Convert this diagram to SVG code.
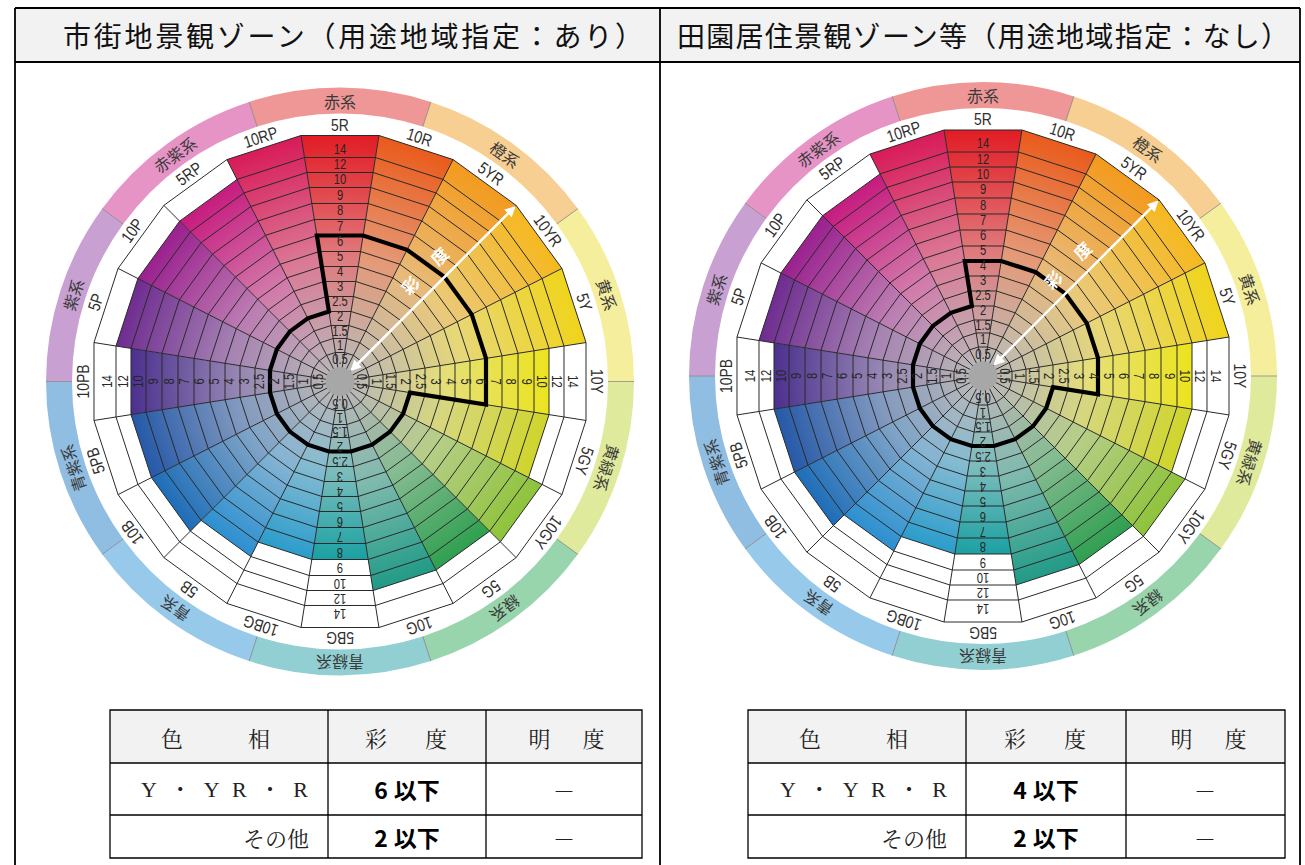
<svg xmlns="http://www.w3.org/2000/svg" width="1305" height="865" viewBox="0 0 1305 865">
<style>
.hdr{font-family:'Noto Sans CJK JP','Noto Sans',sans-serif;font-size:28px;fill:#111;dominant-baseline:central}
.tb{fill:none;stroke:#000;stroke-width:1.8}
.tb2{fill:none;stroke:#000;stroke-width:1.3}
.th{font-family:'Noto Serif CJK JP','Noto Sans CJK JP',serif;font-size:22px;fill:#222;dominant-baseline:central}
.tl{font-family:'Liberation Serif','Noto Serif CJK JP','Noto Sans CJK JP',serif;font-size:22px;fill:#222;dominant-baseline:central}
.tv{font-family:'Noto Sans CJK JP',sans-serif;font-size:23px;font-weight:bold;fill:#000;text-anchor:middle;dominant-baseline:central}
.num{font-family:'Liberation Sans',sans-serif;font-size:14px;fill:#262626;text-anchor:middle;dominant-baseline:central}
.hue{font-family:'Liberation Sans',sans-serif;font-size:17px;fill:#2e2e2e;text-anchor:middle;dominant-baseline:central}
.fam{font-family:'Noto Sans CJK JP',sans-serif;font-size:16px;fill:#3a3a3a;text-anchor:middle;dominant-baseline:central}
.ring{fill:none;stroke:#2a2a2a;stroke-width:1;vector-effect:non-scaling-stroke}
.spk{fill:none;stroke:#2a2a2a;stroke-width:1}
.sep{stroke:#8a8a8a;stroke-width:0.8}
.lim{fill:none;stroke:#000;stroke-width:4.2;stroke-linejoin:miter}
.arr{stroke:#fff;stroke-width:2.5;fill:none}
.sai{font-family:'Noto Sans CJK JP',sans-serif;font-size:17px;fill:#fff;font-weight:bold;text-anchor:middle;dominant-baseline:central}
</style>
<defs>
<radialGradient id="gR5" gradientUnits="userSpaceOnUse" cx="0" cy="0" r="100"><stop offset="0.05" stop-color="#bab7b7"/><stop offset="0.5" stop-color="#e07a7c"/><stop offset="1" stop-color="#e21b23"/></radialGradient>
<radialGradient id="gR10" gradientUnits="userSpaceOnUse" cx="0" cy="0" r="100"><stop offset="0.05" stop-color="#bab7b7"/><stop offset="0.5" stop-color="#e49a78"/><stop offset="1" stop-color="#ea5a1a"/></radialGradient>
<radialGradient id="gYR5" gradientUnits="userSpaceOnUse" cx="0" cy="0" r="100"><stop offset="0.05" stop-color="#bab7b7"/><stop offset="0.5" stop-color="#e8ba79"/><stop offset="1" stop-color="#f39a1c"/></radialGradient>
<radialGradient id="gYR10" gradientUnits="userSpaceOnUse" cx="0" cy="0" r="100"><stop offset="0.05" stop-color="#bab7b7"/><stop offset="0.5" stop-color="#eac97a"/><stop offset="1" stop-color="#f6b81f"/></radialGradient>
<radialGradient id="gY5" gradientUnits="userSpaceOnUse" cx="0" cy="0" r="100"><stop offset="0.05" stop-color="#bab7b7"/><stop offset="0.5" stop-color="#e7d778"/><stop offset="1" stop-color="#f0d41a"/></radialGradient>
<radialGradient id="gY10" gradientUnits="userSpaceOnUse" cx="0" cy="0" r="100"><stop offset="0.05" stop-color="#bab7b7"/><stop offset="0.5" stop-color="#e5df79"/><stop offset="1" stop-color="#ece41c"/></radialGradient>
<radialGradient id="gGY5" gradientUnits="userSpaceOnUse" cx="0" cy="0" r="100"><stop offset="0.05" stop-color="#bab7b7"/><stop offset="0.5" stop-color="#d6d780"/><stop offset="1" stop-color="#cfd52a"/></radialGradient>
<radialGradient id="gGY10" gradientUnits="userSpaceOnUse" cx="0" cy="0" r="100"><stop offset="0.05" stop-color="#bab7b7"/><stop offset="0.5" stop-color="#b6ce88"/><stop offset="1" stop-color="#8ec33a"/></radialGradient>
<radialGradient id="gG5" gradientUnits="userSpaceOnUse" cx="0" cy="0" r="100"><stop offset="0.05" stop-color="#bab7b7"/><stop offset="0.5" stop-color="#86bc92"/><stop offset="1" stop-color="#2e9f4f"/></radialGradient>
<radialGradient id="gG10" gradientUnits="userSpaceOnUse" cx="0" cy="0" r="100"><stop offset="0.05" stop-color="#bab7b7"/><stop offset="0.5" stop-color="#7ebaae"/><stop offset="1" stop-color="#1f9a86"/></radialGradient>
<radialGradient id="gBG5" gradientUnits="userSpaceOnUse" cx="0" cy="0" r="100"><stop offset="0.05" stop-color="#bab7b7"/><stop offset="0.5" stop-color="#7cbdbc"/><stop offset="1" stop-color="#1aa0a2"/></radialGradient>
<radialGradient id="gBG10" gradientUnits="userSpaceOnUse" cx="0" cy="0" r="100"><stop offset="0.05" stop-color="#bab7b7"/><stop offset="0.5" stop-color="#84bbd1"/><stop offset="1" stop-color="#2a9ccc"/></radialGradient>
<radialGradient id="gB5" gradientUnits="userSpaceOnUse" cx="0" cy="0" r="100"><stop offset="0.05" stop-color="#bab7b7"/><stop offset="0.5" stop-color="#84b4d3"/><stop offset="1" stop-color="#2b8fd0"/></radialGradient>
<radialGradient id="gB10" gradientUnits="userSpaceOnUse" cx="0" cy="0" r="100"><stop offset="0.05" stop-color="#bab7b7"/><stop offset="0.5" stop-color="#7da3c7"/><stop offset="1" stop-color="#1d6db8"/></radialGradient>
<radialGradient id="gPB5" gradientUnits="userSpaceOnUse" cx="0" cy="0" r="100"><stop offset="0.05" stop-color="#bab7b7"/><stop offset="0.5" stop-color="#8199bf"/><stop offset="1" stop-color="#2458a8"/></radialGradient>
<radialGradient id="gPB10" gradientUnits="userSpaceOnUse" cx="0" cy="0" r="100"><stop offset="0.05" stop-color="#bab7b7"/><stop offset="0.5" stop-color="#9484b2"/><stop offset="1" stop-color="#4a2f8e"/></radialGradient>
<radialGradient id="gP5" gradientUnits="userSpaceOnUse" cx="0" cy="0" r="100"><stop offset="0.05" stop-color="#bab7b7"/><stop offset="0.5" stop-color="#a682b3"/><stop offset="1" stop-color="#6e2b90"/></radialGradient>
<radialGradient id="gP10" gradientUnits="userSpaceOnUse" cx="0" cy="0" r="100"><stop offset="0.05" stop-color="#bab7b7"/><stop offset="0.5" stop-color="#bc7cb2"/><stop offset="1" stop-color="#9a1f8e"/></radialGradient>
<radialGradient id="gRP5" gradientUnits="userSpaceOnUse" cx="0" cy="0" r="100"><stop offset="0.05" stop-color="#bab7b7"/><stop offset="0.5" stop-color="#d27aaa"/><stop offset="1" stop-color="#c61a7e"/></radialGradient>
<radialGradient id="gRP10" gradientUnits="userSpaceOnUse" cx="0" cy="0" r="100"><stop offset="0.05" stop-color="#bab7b7"/><stop offset="0.5" stop-color="#db7a97"/><stop offset="1" stop-color="#d81a58"/></radialGradient>
<polygon id="poly" class="ring" points="98.769,15.643 89.101,45.399 70.711,70.711 45.399,89.101 15.643,98.769 -15.643,98.769 -45.399,89.101 -70.711,70.711 -89.101,45.399 -98.769,15.643 -98.769,-15.643 -89.101,-45.399 -70.711,-70.711 -45.399,-89.101 -15.643,-98.769 15.643,-98.769 45.399,-89.101 70.711,-70.711 89.101,-45.399 98.769,-15.643"/>
<path id="seg" d="M-90.85,-279.61A294,294 0 0 1 90.85,-279.61L82.82,-254.88A268,268 0 0 0 -82.82,-254.88Z"/>
<path id="sepl" class="sep" d="M0,-268V-294"/>
<marker id="ah" viewBox="0 0 10 10" refX="8" refY="5" markerWidth="11" markerHeight="11" markerUnits="userSpaceOnUse" orient="auto-start-reverse"><path d="M0,0L10,5L0,10z" fill="#fff"/></marker>
<g id="wheel">
 <g id="famring">
  <use href="#seg" fill="#ef9797"/>
  <use href="#seg" fill="#f7cf92" transform="rotate(36)"/>
  <use href="#seg" fill="#f5ee9c" transform="rotate(72)"/>
  <use href="#seg" fill="#e0ea9c" transform="rotate(108)"/>
  <use href="#seg" fill="#98d4ac" transform="rotate(144)"/>
  <use href="#seg" fill="#92cfd3" transform="rotate(180)"/>
  <use href="#seg" fill="#96c9ea" transform="rotate(216)"/>
  <use href="#seg" fill="#90bde2" transform="rotate(252)"/>
  <use href="#seg" fill="#c8a0d2" transform="rotate(288)"/>
  <use href="#seg" fill="#e693c6" transform="rotate(324)"/>
  <use href="#sepl" transform="rotate(18)"/><use href="#sepl" transform="rotate(54)"/><use href="#sepl" transform="rotate(90)"/><use href="#sepl" transform="rotate(126)"/><use href="#sepl" transform="rotate(162)"/><use href="#sepl" transform="rotate(198)"/><use href="#sepl" transform="rotate(234)"/><use href="#sepl" transform="rotate(270)"/><use href="#sepl" transform="rotate(306)"/><use href="#sepl" transform="rotate(342)"/>
 </g>
 <g id="wedges">
  <polygon points="0,0 -15.643,-98.769 15.643,-98.769" fill="url(#gR5)" transform="scale(2.4907)"/>
  <polygon points="0,0 15.643,-98.769 45.399,-89.101" fill="url(#gR10)" transform="scale(2.4907)"/>
  <polygon points="0,0 45.399,-89.101 70.711,-70.711" fill="url(#gYR5)" transform="scale(2.4907)"/>
  <polygon points="0,0 70.711,-70.711 89.101,-45.399" fill="url(#gYR10)" transform="scale(2.4907)"/>
  <polygon points="0,0 89.101,-45.399 98.769,-15.643" fill="url(#gY5)" transform="scale(2.4907)"/>
  <polygon points="0,0 98.769,-15.643 98.769,15.643" fill="url(#gY10)" transform="scale(2.1161)"/>
  <polygon points="0,0 98.769,15.643 89.101,45.399" fill="url(#gGY5)" transform="scale(2.1161)"/>
  <polygon points="0,0 89.101,45.399 70.711,70.711" fill="url(#gGY10)" transform="scale(2.2679)"/>
  <polygon points="0,0 70.711,70.711 45.399,89.101" fill="url(#gG5)" transform="scale(2.1161)"/>
  <polygon points="0,0 45.399,89.101 15.643,98.769" fill="url(#gG10)" transform="scale(2.1161)"/>
  <polygon points="0,0 15.643,98.769 -15.643,98.769" fill="url(#gBG5)" transform="scale(1.8022)"/>
  <polygon points="0,0 -15.643,98.769 -45.399,89.101" fill="url(#gBG10)" transform="scale(1.8022)"/>
  <polygon points="0,0 -45.399,89.101 -70.711,70.711" fill="url(#gB5)" transform="scale(1.9642)"/>
  <polygon points="0,0 -70.711,70.711 -89.101,45.399" fill="url(#gB10)" transform="scale(2.1161)"/>
  <polygon points="0,0 -89.101,45.399 -98.769,15.643" fill="url(#gPB5)" transform="scale(2.1161)"/>
  <polygon points="0,0 -98.769,15.643 -98.769,-15.643" fill="url(#gPB10)" transform="scale(2.1161)"/>
  <polygon points="0,0 -98.769,-15.643 -89.101,-45.399" fill="url(#gP5)" transform="scale(2.2679)"/>
  <polygon points="0,0 -89.101,-45.399 -70.711,-70.711" fill="url(#gP10)" transform="scale(2.2679)"/>
  <polygon points="0,0 -70.711,-70.711 -45.399,-89.101" fill="url(#gRP5)" transform="scale(2.2679)"/>
  <polygon points="0,0 -45.399,-89.101 -15.643,-98.769" fill="url(#gRP10)" transform="scale(2.4907)"/>
 </g>
 <g id="grid">
  <use href="#poly" transform="scale(0.2936)"/>
  <use href="#poly" transform="scale(0.4354)"/>
  <use href="#poly" transform="scale(0.5670)"/>
  <use href="#poly" transform="scale(0.7087)"/>
  <use href="#poly" transform="scale(0.8606)"/>
  <use href="#poly" transform="scale(1.0125)"/>
  <use href="#poly" transform="scale(1.1643)"/>
  <use href="#poly" transform="scale(1.3162)"/>
  <use href="#poly" transform="scale(1.4782)"/>
  <use href="#poly" transform="scale(1.6402)"/>
  <use href="#poly" transform="scale(1.8022)"/>
  <use href="#poly" transform="scale(1.9642)"/>
  <use href="#poly" transform="scale(2.1161)"/>
  <use href="#poly" transform="scale(2.2679)"/>
  <use href="#poly" transform="scale(2.4907)"/>
  <path class="spk" d="M246,38.96L-246,-38.96M221.93,113.08L-221.93,-113.08M176.12,176.12L-176.12,-176.12M113.08,221.93L-113.08,-221.93M38.96,246L-38.96,-246M-38.96,246L38.96,-246M-113.08,221.93L113.08,-221.93M-176.12,176.12L176.12,-176.12M-221.93,113.08L221.93,-113.08M-246,38.96L246,-38.96"/>
 </g>
 <circle r="14.6" fill="#a7a7a7"/>
</g>
</defs>

<g id="frame">
 <rect x="15" y="8" width="1285" height="54" fill="#f2f2f2"/>
 <path class="tb" d="M15,8H1300M15,62H1300M15,8V865M660,8V865M1300,8V865"/>
 <text class="hdr" x="63" y="35" textLength="580" lengthAdjust="spacing">市街地景観ゾーン（用途地域指定：あり）</text>
 <text class="hdr" x="677" y="35" textLength="612" lengthAdjust="spacing">田園居住景観ゾーン等（用途地域指定：なし）</text>
</g>

<g id="wheel-left" transform="translate(340,381.5)">
 <use href="#wheel"/>
 <path class="lim" d="M-23.12,-146L23.12,-146L67.11,-131.71L104.52,-104.52L131.71,-67.11L146,-23.12L146,23.12L70,11.09L63.15,32.17L50.11,50.11L32.17,63.15L11.09,70L-11.09,70L-32.17,63.15L-50.11,50.11L-63.15,32.17L-70,11.09L-70,-11.09L-63.15,-32.17L-50.11,-50.11L-32.17,-63.15L-11.09,-70Z"/>
 <path class="arr" d="M12,-12L174,-174" marker-start="url(#ah)" marker-end="url(#ah)"/>
 <g transform="rotate(-45)"><text class="sai" x="118" y="-19">彩</text><text class="sai" x="159" y="-19">度</text></g>
 <g id="fam-left">
  <text class="fam" transform="translate(0,-281)">赤系</text>
  <text class="fam" transform="rotate(36) translate(0,-281)">橙系</text>
  <text class="fam" transform="rotate(72) translate(0,-281)">黄系</text>
  <text class="fam" transform="rotate(108) translate(0,-281)">黄緑系</text>
  <text class="fam" transform="rotate(144) translate(0,-281)">緑系</text>
  <text class="fam" transform="rotate(180) translate(0,-281)">青緑系</text>
  <text class="fam" transform="rotate(216) translate(0,-281)">青系</text>
  <text class="fam" transform="rotate(252) translate(0,-281)">青紫系</text>
  <text class="fam" transform="rotate(288) translate(0,-281)">紫系</text>
  <text class="fam" transform="rotate(324) translate(0,-281)">赤紫系</text>
 </g>
 <g id="hue-left">
  <text class="hue" transform="translate(0,-257) scale(0.82,1)">5R</text>
  <text class="hue" transform="rotate(18) translate(0,-257) scale(0.82,1)">10R</text>
  <text class="hue" transform="rotate(36) translate(0,-257) scale(0.82,1)">5YR</text>
  <text class="hue" transform="rotate(54) translate(0,-257) scale(0.82,1)">10YR</text>
  <text class="hue" transform="rotate(72) translate(0,-257) scale(0.82,1)">5Y</text>
  <text class="hue" transform="rotate(90) translate(0,-257) scale(0.82,1)">10Y</text>
  <text class="hue" transform="rotate(108) translate(0,-257) scale(0.82,1)">5GY</text>
  <text class="hue" transform="rotate(126) translate(0,-257) scale(0.82,1)">10GY</text>
  <text class="hue" transform="rotate(144) translate(0,-257) scale(0.82,1)">5G</text>
  <text class="hue" transform="rotate(162) translate(0,-257) scale(0.82,1)">10G</text>
  <text class="hue" transform="rotate(180) translate(0,-257) scale(0.82,1)">5BG</text>
  <text class="hue" transform="rotate(198) translate(0,-257) scale(0.82,1)">10BG</text>
  <text class="hue" transform="rotate(216) translate(0,-257) scale(0.82,1)">5B</text>
  <text class="hue" transform="rotate(234) translate(0,-257) scale(0.82,1)">10B</text>
  <text class="hue" transform="rotate(252) translate(0,-257) scale(0.82,1)">5PB</text>
  <text class="hue" transform="rotate(270) translate(0,-257) scale(0.82,1)">10PB</text>
  <text class="hue" transform="rotate(288) translate(0,-257) scale(0.82,1)">5P</text>
  <text class="hue" transform="rotate(306) translate(0,-257) scale(0.82,1)">10P</text>
  <text class="hue" transform="rotate(324) translate(0,-257) scale(0.82,1)">5RP</text>
  <text class="hue" transform="rotate(342) translate(0,-257) scale(0.82,1)">10RP</text>
 </g>
 <g id="num-left">
  <g transform="scale(0.8,1)"><text class="num" y="-21.5">0.5</text><text class="num" y="-36">1</text><text class="num" y="-50">1.5</text><text class="num" y="-65">2</text><text class="num" y="-80">2.5</text><text class="num" y="-95">3</text><text class="num" y="-110">4</text><text class="num" y="-125">5</text><text class="num" y="-140">6</text><text class="num" y="-155">7</text><text class="num" y="-170.5">8</text><text class="num" y="-186">9</text><text class="num" y="-201.5">10</text><text class="num" y="-216.5">12</text><text class="num" y="-232">14</text></g>
  <g transform="rotate(90) scale(0.8,1)"><text class="num" y="-21.5">0.5</text><text class="num" y="-36">1</text><text class="num" y="-50">1.5</text><text class="num" y="-65">2</text><text class="num" y="-80">2.5</text><text class="num" y="-95">3</text><text class="num" y="-110">4</text><text class="num" y="-125">5</text><text class="num" y="-140">6</text><text class="num" y="-155">7</text><text class="num" y="-170.5">8</text><text class="num" y="-186">9</text><text class="num" y="-201.5">10</text><text class="num" y="-216.5">12</text><text class="num" y="-232">14</text></g>
  <g transform="rotate(180) scale(0.8,1)"><text class="num" y="-21.5">0.5</text><text class="num" y="-36">1</text><text class="num" y="-50">1.5</text><text class="num" y="-65">2</text><text class="num" y="-80">2.5</text><text class="num" y="-95">3</text><text class="num" y="-110">4</text><text class="num" y="-125">5</text><text class="num" y="-140">6</text><text class="num" y="-155">7</text><text class="num" y="-170.5">8</text><text class="num" y="-186">9</text><text class="num" y="-201.5">10</text><text class="num" y="-216.5">12</text><text class="num" y="-232">14</text></g>
  <g transform="rotate(270) scale(0.8,1)"><text class="num" y="-21.5">0.5</text><text class="num" y="-36">1</text><text class="num" y="-50">1.5</text><text class="num" y="-65">2</text><text class="num" y="-80">2.5</text><text class="num" y="-95">3</text><text class="num" y="-110">4</text><text class="num" y="-125">5</text><text class="num" y="-140">6</text><text class="num" y="-155">7</text><text class="num" y="-170.5">8</text><text class="num" y="-186">9</text><text class="num" y="-201.5">10</text><text class="num" y="-216.5">12</text><text class="num" y="-232">14</text></g>
 </g>
</g>

<g id="wheel-right" transform="translate(983,376)">
 <use href="#wheel"/>
 <path class="lim" d="M-18.21,-115L18.21,-115L52.86,-103.74L82.33,-82.33L103.74,-52.86L115,-18.21L115,18.21L70,11.09L63.15,32.17L50.11,50.11L32.17,63.15L11.09,70L-11.09,70L-32.17,63.15L-50.11,50.11L-63.15,32.17L-70,11.09L-70,-11.09L-63.15,-32.17L-50.11,-50.11L-32.17,-63.15L-11.09,-70Z"/>
 <path class="arr" d="M12,-12L174,-174" marker-start="url(#ah)" marker-end="url(#ah)"/>
 <g transform="rotate(-45)"><text class="sai" x="118" y="-19">彩</text><text class="sai" x="159" y="-19">度</text></g>
 <g id="fam-right">
  <text class="fam" transform="translate(0,-281)">赤系</text>
  <text class="fam" transform="rotate(36) translate(0,-281)">橙系</text>
  <text class="fam" transform="rotate(72) translate(0,-281)">黄系</text>
  <text class="fam" transform="rotate(108) translate(0,-281)">黄緑系</text>
  <text class="fam" transform="rotate(144) translate(0,-281)">緑系</text>
  <text class="fam" transform="rotate(180) translate(0,-281)">青緑系</text>
  <text class="fam" transform="rotate(216) translate(0,-281)">青系</text>
  <text class="fam" transform="rotate(252) translate(0,-281)">青紫系</text>
  <text class="fam" transform="rotate(288) translate(0,-281)">紫系</text>
  <text class="fam" transform="rotate(324) translate(0,-281)">赤紫系</text>
 </g>
 <g id="hue-right">
  <text class="hue" transform="translate(0,-257) scale(0.82,1)">5R</text>
  <text class="hue" transform="rotate(18) translate(0,-257) scale(0.82,1)">10R</text>
  <text class="hue" transform="rotate(36) translate(0,-257) scale(0.82,1)">5YR</text>
  <text class="hue" transform="rotate(54) translate(0,-257) scale(0.82,1)">10YR</text>
  <text class="hue" transform="rotate(72) translate(0,-257) scale(0.82,1)">5Y</text>
  <text class="hue" transform="rotate(90) translate(0,-257) scale(0.82,1)">10Y</text>
  <text class="hue" transform="rotate(108) translate(0,-257) scale(0.82,1)">5GY</text>
  <text class="hue" transform="rotate(126) translate(0,-257) scale(0.82,1)">10GY</text>
  <text class="hue" transform="rotate(144) translate(0,-257) scale(0.82,1)">5G</text>
  <text class="hue" transform="rotate(162) translate(0,-257) scale(0.82,1)">10G</text>
  <text class="hue" transform="rotate(180) translate(0,-257) scale(0.82,1)">5BG</text>
  <text class="hue" transform="rotate(198) translate(0,-257) scale(0.82,1)">10BG</text>
  <text class="hue" transform="rotate(216) translate(0,-257) scale(0.82,1)">5B</text>
  <text class="hue" transform="rotate(234) translate(0,-257) scale(0.82,1)">10B</text>
  <text class="hue" transform="rotate(252) translate(0,-257) scale(0.82,1)">5PB</text>
  <text class="hue" transform="rotate(270) translate(0,-257) scale(0.82,1)">10PB</text>
  <text class="hue" transform="rotate(288) translate(0,-257) scale(0.82,1)">5P</text>
  <text class="hue" transform="rotate(306) translate(0,-257) scale(0.82,1)">10P</text>
  <text class="hue" transform="rotate(324) translate(0,-257) scale(0.82,1)">5RP</text>
  <text class="hue" transform="rotate(342) translate(0,-257) scale(0.82,1)">10RP</text>
 </g>
 <g id="num-right">
  <g transform="scale(0.8,1)"><text class="num" y="-21.5">0.5</text><text class="num" y="-36">1</text><text class="num" y="-50">1.5</text><text class="num" y="-65">2</text><text class="num" y="-80">2.5</text><text class="num" y="-95">3</text><text class="num" y="-110">4</text><text class="num" y="-125">5</text><text class="num" y="-140">6</text><text class="num" y="-155">7</text><text class="num" y="-170.5">8</text><text class="num" y="-186">9</text><text class="num" y="-201.5">10</text><text class="num" y="-216.5">12</text><text class="num" y="-232">14</text></g>
  <g transform="rotate(90) scale(0.8,1)"><text class="num" y="-21.5">0.5</text><text class="num" y="-36">1</text><text class="num" y="-50">1.5</text><text class="num" y="-65">2</text><text class="num" y="-80">2.5</text><text class="num" y="-95">3</text><text class="num" y="-110">4</text><text class="num" y="-125">5</text><text class="num" y="-140">6</text><text class="num" y="-155">7</text><text class="num" y="-170.5">8</text><text class="num" y="-186">9</text><text class="num" y="-201.5">10</text><text class="num" y="-216.5">12</text><text class="num" y="-232">14</text></g>
  <g transform="rotate(180) scale(0.8,1)"><text class="num" y="-21.5">0.5</text><text class="num" y="-36">1</text><text class="num" y="-50">1.5</text><text class="num" y="-65">2</text><text class="num" y="-80">2.5</text><text class="num" y="-95">3</text><text class="num" y="-110">4</text><text class="num" y="-125">5</text><text class="num" y="-140">6</text><text class="num" y="-155">7</text><text class="num" y="-170.5">8</text><text class="num" y="-186">9</text><text class="num" y="-201.5">10</text><text class="num" y="-216.5">12</text><text class="num" y="-232">14</text></g>
  <g transform="rotate(270) scale(0.8,1)"><text class="num" y="-21.5">0.5</text><text class="num" y="-36">1</text><text class="num" y="-50">1.5</text><text class="num" y="-65">2</text><text class="num" y="-80">2.5</text><text class="num" y="-95">3</text><text class="num" y="-110">4</text><text class="num" y="-125">5</text><text class="num" y="-140">6</text><text class="num" y="-155">7</text><text class="num" y="-170.5">8</text><text class="num" y="-186">9</text><text class="num" y="-201.5">10</text><text class="num" y="-216.5">12</text><text class="num" y="-232">14</text></g>
 </g>
</g>

<g id="table-left">
 <rect x="110" y="710" width="532" height="53" fill="#f2f2f2"/>
 <path class="tb2" d="M110,710H642V858H110ZM110,763H642M110,815H642M328,710V858M486,710V858"/>
 <text class="th" x="219" y="737" text-anchor="middle" letter-spacing="7">色　　相</text>
 <text class="th" x="410" y="737" text-anchor="middle" letter-spacing="8">彩　度</text>
 <text class="th" x="569" y="737" text-anchor="middle" letter-spacing="5">明　度</text>
 <text class="tl" x="141" y="789" textLength="167" lengthAdjust="spacing">Y・YR・R</text>
 <text class="th" x="309" y="837" text-anchor="end">その他</text>
 <text class="tv" x="407" y="789">6<tspan dx="6">以下</tspan></text>
 <text class="tv" x="407" y="837">2<tspan dx="6">以下</tspan></text>
 <text class="th" x="564" y="789" text-anchor="middle">－</text>
 <text class="th" x="564" y="837" text-anchor="middle">－</text>
</g>

<g id="table-right">
 <rect x="748" y="710" width="537" height="53" fill="#f2f2f2"/>
 <path class="tb2" d="M748,710H1285V858H748ZM748,763H1285M748,815H1285M966,710V858M1126,710V858"/>
 <text class="th" x="857" y="737" text-anchor="middle" letter-spacing="7">色　　相</text>
 <text class="th" x="1049" y="737" text-anchor="middle" letter-spacing="8">彩　度</text>
 <text class="th" x="1211" y="737" text-anchor="middle" letter-spacing="5">明　度</text>
 <text class="tl" x="780" y="789" textLength="167" lengthAdjust="spacing">Y・YR・R</text>
 <text class="th" x="947" y="837" text-anchor="end">その他</text>
 <text class="tv" x="1046" y="789">4<tspan dx="6">以下</tspan></text>
 <text class="tv" x="1046" y="837">2<tspan dx="6">以下</tspan></text>
 <text class="th" x="1205" y="789" text-anchor="middle">－</text>
 <text class="th" x="1205" y="837" text-anchor="middle">－</text>
</g>
</svg>
